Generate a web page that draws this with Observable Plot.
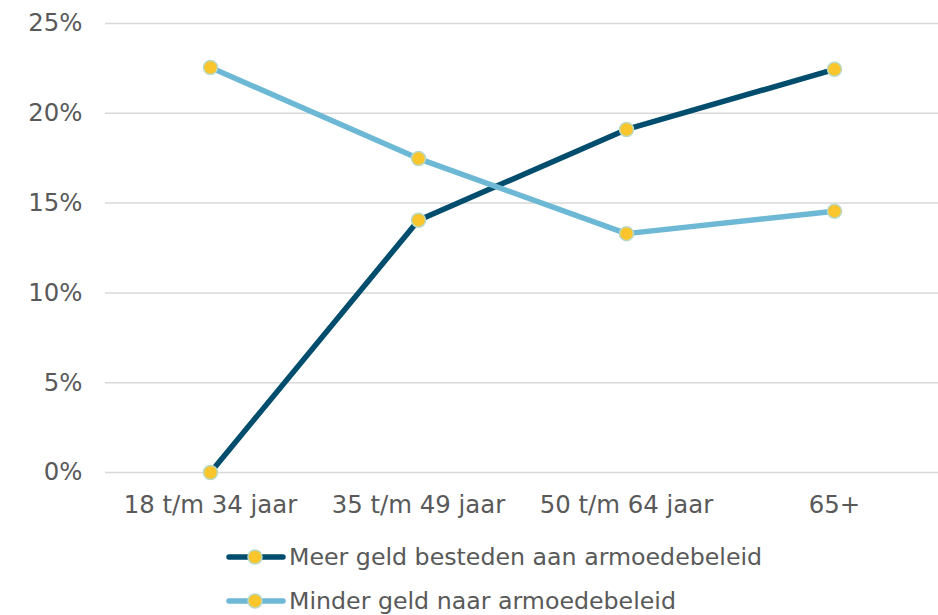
<!DOCTYPE html>
<html>
<head>
<meta charset="utf-8">
<script src="https://cdn.jsdelivr.net/npm/d3@7"></script>
<script src="https://cdn.jsdelivr.net/npm/@observablehq/plot@0.6"></script>
<style>
  html, body { margin: 0; padding: 0; background: #fff; }
  body { width: 938px; height: 615px; overflow: hidden; font-family: "DejaVu Sans", Verdana, sans-serif; color: #595959; position: relative; }
  #legend { position: absolute; left: 226px; top: 535px; }
  .item { display: flex; align-items: center; height: 44px; font-size: 23.7px; white-space: nowrap; }
  .item svg { margin-right: 3px; }
</style>
</head>
<body>
<div id="chart"></div>
<div id="legend"></div>
<script>
const categories = ["18 t/m 34 jaar", "35 t/m 49 jaar", "50 t/m 64 jaar", "65+"];
const meer = [0.0, 14.05, 19.1, 22.45];
const minder = [22.55, 17.48, 13.3, 14.55];
const seriesNames = ["Meer geld besteden aan armoedebeleid", "Minder geld naar armoedebeleid"];
const seriesColors = ["#004d6d", "#6cb8d5"];
const yTicks = [0, 5, 10, 15, 20, 25];

const data = [];
categories.forEach((c, i) => {
  data.push({cat: c, value: meer[i], series: seriesNames[0]});
  data.push({cat: c, value: minder[i], series: seriesNames[1]});
});

const chart = Plot.plot({
  width: 938,
  height: 530,
  marginTop: 23,
  marginBottom: 58,
  marginLeft: 105,
  marginRight: 0,
  style: {fontFamily: "DejaVu Sans, Verdana, sans-serif", fontSize: "24px", color: "#595959", background: "#fff", overflow: "visible"},
  x: {type: "point", domain: categories, padding: 0.5, label: null},
  y: {domain: [0, 25], label: null},
  color: {domain: seriesNames, range: seriesColors},
  marks: [
    Plot.ruleY(yTicks, {stroke: "#d9d9d9", strokeWidth: 1.5}),
    Plot.axisY(yTicks, {tickSize: 0, tickPadding: 23, tickFormat: d => d + "%", fill: "#595959", fontSize: 24.4}),
    Plot.axisX({tickSize: 0, tickPadding: 23, fill: "#595959", fontSize: 24.4}),
    Plot.line(data, {x: "cat", y: "value", z: "series", stroke: "series", strokeWidth: 5.5, strokeLinejoin: "round"}),
    Plot.dot(data, {x: "cat", y: "value", r: 7, fill: "#fbc62b", stroke: "#b9d9c4", strokeWidth: 1.5})
  ]
});
document.getElementById("chart").appendChild(chart);

const legend = document.getElementById("legend");
seriesNames.forEach((name, i) => {
  const div = document.createElement("div");
  div.className = "item";
  div.innerHTML = `<svg width="60" height="20"><line x1="3" y1="10" x2="57" y2="10" stroke="${seriesColors[i]}" stroke-width="5.5" stroke-linecap="round"/><circle cx="29" cy="10" r="7" fill="#fbc62b" stroke="#b9d9c4" stroke-width="1.5"/></svg><span>${name}</span>`;
  legend.appendChild(div);
});
</script>
</body>
</html>
